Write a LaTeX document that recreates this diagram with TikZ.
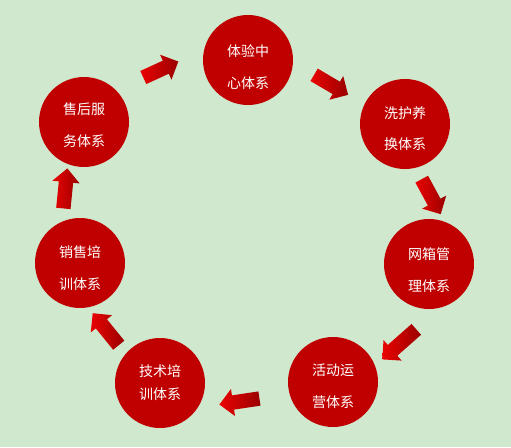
\documentclass[tikz,border=0pt]{standalone}
\usepackage{fontspec}
\newfontfamily\cjk{Noto Sans CJK SC}
\usetikzlibrary{shapes.arrows,calc}

\definecolor{paper}{HTML}{CFE8CE}
\definecolor{ringred}{HTML}{C00000}
\definecolor{arrowlight}{HTML}{EA0303}
\definecolor{arrowdark}{HTML}{990000}

\begin{document}
\begin{tikzpicture}[x=1pt,y=-1pt,
  ring/.style={circle, fill=ringred, minimum size=90pt, inner sep=0pt},
  ringtext/.style={text=white, font=\cjk\fontsize{14pt}{16pt}\selectfont, align=center, inner sep=0pt},
  blockarrow/.style={single arrow, single arrow head extend=6.5pt,
    single arrow tip angle=90, inner xsep=0pt, inner ysep=7pt,
    left color=arrowlight, right color=arrowdark, sloped, allow upside down}]

% ---- Canvas ----
\fill[paper] (0,0) rectangle (511,447);
\useasboundingbox (0,0) rectangle (511,447);

% ---- Circles: centre x/y, text middle y, extra line gap ----
\foreach \k/\x/\y/\m/\g/\linea/\lineb in {
    1/248/60/67/15.5/体验中/心体系,
    2/405/124/129/15/洗护养/换体系,
    3/429/264/270/15.5/网箱管/理体系,
    4/333/382/386/15.5/活动运/营体系,
    5/160/383/383/7/技术培/训体系,
    6/80/263/268/16/销售培/训体系,
    7/84/122/125/15.5/售后服/务体系
}{
    \node[ring] (c\k) at (\x,\y) {};
    \node[ringtext] (l\k) at (\x,\m) {\linea\\[\g pt]\lineb};
}

% ---- Block arrows round the ring (tail -> head) ----
\foreach \k/\tx/\ty/\hx/\hy in {
    1/140/79/175/63, 2/311/73/345/93, 3/420/176/439/211,
    4/419/327/385/357, 5/263/398/223/404, 6/121/348/95/316,
    7/63/212/67/172
}{
    \coordinate (t\k) at (\tx,\ty);
    \coordinate (h\k) at (\hx,\hy);
    \path (t\k) -- (h\k)
        node[blockarrow, midway, minimum height={veclen(\hx-\tx,\hy-\ty)}] (a\k) {};
}

\end{tikzpicture}
\end{document}
